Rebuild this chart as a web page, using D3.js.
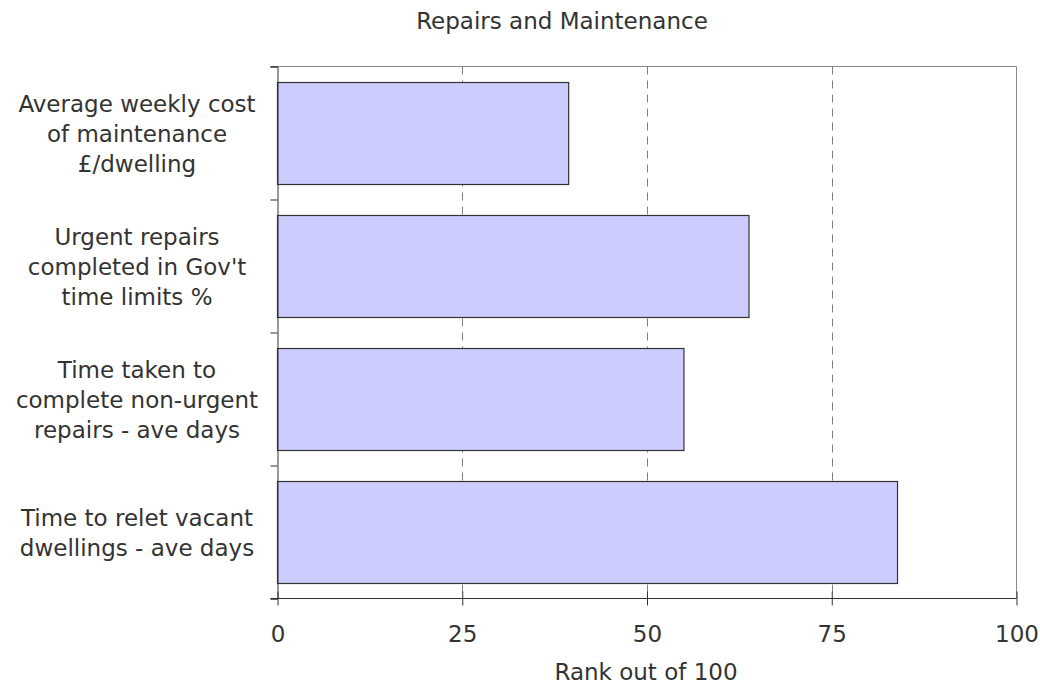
<!DOCTYPE html>
<html>
<head>
<meta charset="utf-8">
<script src="https://cdn.jsdelivr.net/npm/d3@7"></script>
<style>
  html, body { margin: 0; padding: 0; background: #fff; }
  svg { display: block; }
  text { font-family: "DejaVu Sans", Verdana, sans-serif; fill: #333; }
</style>
</head>
<body>
<svg id="chart" width="1040" height="686"></svg>
<script>
// ---- data ----
const title = "Repairs and Maintenance";
const xAxisTitle = "Rank out of 100";
const categories = [
  "Average weekly cost of maintenance £/dwelling",
  "Urgent repairs completed in Gov't time limits %",
  "Time taken to complete non-urgent repairs - ave days",
  "Time to relet vacant dwellings - ave days"
];
const categoryLines = [
  ["Average weekly cost", "of maintenance", "£/dwelling"],
  ["Urgent repairs", "completed in Gov't", "time limits %"],
  ["Time taken to", "complete non-urgent", "repairs - ave days"],
  ["Time to relet vacant", "dwellings - ave days"]
];
const values = [39.4, 63.8, 55.0, 83.9];
const xTicks = [0, 25, 50, 75, 100];
const gridTicks = [25, 50, 75];

// ---- layout ----
(function () {
const svg = d3.select("#chart");
const pL = 277.5, pR = 1016.5, pT = 66.5, pB = 598.5;
const fontSize = 23;

const x = d3.scaleLinear().domain([0, 100]).range([pL, pR]);
const y = d3.scaleBand().domain(categories).range([pT, pB])
  .paddingInner(0.233).paddingOuter(0.1165);
const yEdges = d3.scaleLinear().domain([0, categories.length]).range([pT, pB]);

// title
svg.append("text")
  .attr("x", 562).attr("y", 29)
  .attr("text-anchor", "middle")
  .style("font-size", fontSize + "px")
  .text(title);

// plot frame (top & right)
svg.append("line").attr("x1", pL - 7).attr("x2", pR).attr("y1", pT).attr("y2", pT)
  .attr("stroke", "#8a8a8a").attr("stroke-width", 1);
svg.append("line").attr("x1", pR).attr("x2", pR).attr("y1", pT).attr("y2", pB)
  .attr("stroke", "#8a8a8a").attr("stroke-width", 1);

// gridlines
svg.append("g").selectAll("line").data(gridTicks).join("line")
  .attr("x1", d => Math.round(x(d)) + 0.5).attr("x2", d => Math.round(x(d)) + 0.5)
  .attr("y1", pT).attr("y2", pB)
  .attr("stroke", "#808080").attr("stroke-width", 1)
  .attr("stroke-dasharray", "8,6");

// bars
svg.append("g").selectAll("rect").data(categories).join("rect")
  .attr("x", x(0))
  .attr("y", d => Math.round(y(d)) + 0.5)
  .attr("width", (d, i) => x(values[i]) - x(0))
  .attr("height", Math.round(y.bandwidth()))
  .attr("fill", "#ccccff")
  .attr("stroke", "#333")
  .attr("stroke-width", 1.2);

// left axis (category boundaries)
const yAxis = d3.axisLeft(yEdges).ticks(categories.length).tickSize(7).tickFormat("");
const gy = svg.append("g").attr("transform", `translate(${pL},0)`).call(yAxis);
gy.select(".domain").attr("stroke", "#333");
gy.selectAll(".tick line").attr("stroke", "#333");

// bottom axis
const xAxis = d3.axisBottom(x).tickValues(xTicks).tickSizeInner(7).tickSizeOuter(0).tickPadding(30).tickFormat(d3.format("d"));
const gx = svg.append("g").attr("transform", `translate(0,${pB})`).call(xAxis);
gx.select(".domain").attr("stroke", "#333").attr("d", `M${pL - 7},0H${pR}`);
gx.selectAll(".tick line").attr("stroke", "#333").attr("y1", -7).attr("y2", 7);
gx.selectAll(".tick text")
  .attr("dy", null).attr("y", 43.5)
  .style("font-size", fontSize + "px").style("font-family", "DejaVu Sans, Verdana, sans-serif")
  .attr("fill", "#333");

// category labels
const lineH = 30;
const lab = svg.append("g");
categories.forEach((c, i) => {
  const lines = categoryLines[i];
  const cy = y(c) + y.bandwidth() / 2;
  const t = lab.append("text")
    .attr("text-anchor", "middle")
    .style("font-size", fontSize + "px");
  lines.forEach((ln, j) => {
    t.append("tspan")
      .attr("x", 137)
      .attr("y", cy + 8.5 + (j - (lines.length - 1) / 2) * lineH)
      .text(ln);
  });
});

// x axis title
svg.append("text")
  .attr("x", 646).attr("y", 680)
  .attr("text-anchor", "middle")
  .style("font-size", fontSize + "px")
  .text(xAxisTitle);
})();
</script>
</body>
</html>
